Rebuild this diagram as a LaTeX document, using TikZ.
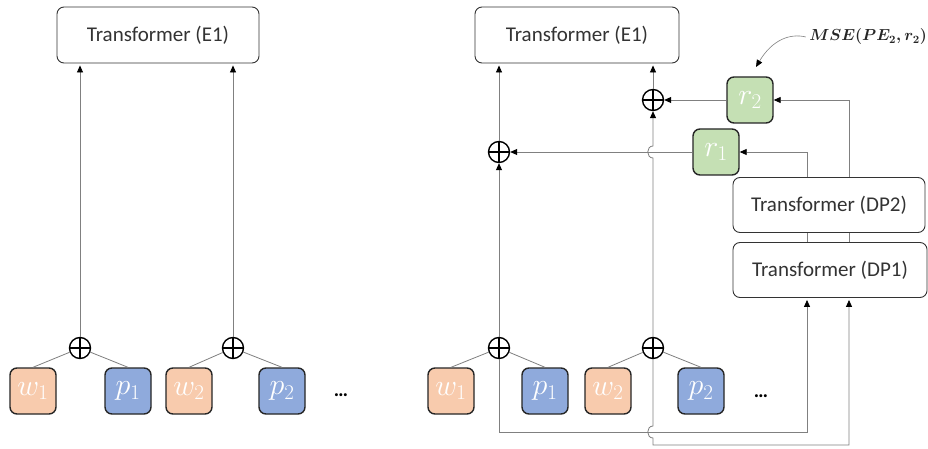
\RequirePackage{fix-cm}
\documentclass[tikz,border=0pt]{standalone}
\usepackage{fontspec}
\setmainfont{Carlito}
\usetikzlibrary{arrows.meta,calc}
\definecolor{wcol}{HTML}{F8CBAD}
\definecolor{pcol}{HTML}{8FAADC}
\definecolor{rcol}{HTML}{C5E0B4}
\definecolor{lncol}{HTML}{808080}
\definecolor{txtcol}{HTML}{333333}
\begin{document}
\begin{tikzpicture}[x=1pt,y=-1pt,
  rough/.style={rounded corners=7pt},
  tbox/.style={rough,draw=black!80,line width=0.9pt,fill=white,font=\fontsize{21}{25}\selectfont,text=txtcol,inner sep=0pt},
  tok/.style={rough,draw=black!85,line width=1.4pt,minimum width=46pt,minimum height=46pt,inner sep=0pt,text=white,font=\fontsize{30}{34}\selectfont},
  wtok/.style={tok,fill=wcol},
  ptok/.style={tok,fill=pcol},
  rtok/.style={tok,fill=rcol},
  oplus/.style={circle,draw=black,line width=1.4pt,minimum size=21pt,inner sep=0pt,
     path picture={\draw[line width=1.4pt] (path picture bounding box.north) -- (path picture bounding box.south) (path picture bounding box.west) -- (path picture bounding box.east);}},
  ln/.style={draw=lncol,line width=0.8pt},
  arr/.style={ln,-{Triangle[length=7pt,width=6pt,color=black]}},
  dots/.style={font=\fontsize{20}{24}\selectfont\bfseries,text=black},
  msestyle/.style={font=\fontsize{16}{19}\selectfont\boldmath,text=black!85},
]
\useasboundingbox[fill=white] (0,0) rectangle (928,449);

% ---------------- left panel ----------------
\node[tbox,minimum width=202pt,minimum height=56pt] (e1L) at (158,35) {Transformer (E1)};
\node[oplus] (s1L) at (80,348) {};
\node[oplus] (s2L) at (233,348) {};
\node[wtok] (w1L) at (33,391) {$w_1$};
\node[ptok] (p1L) at (128,391) {$p_1$};
\node[wtok] (w2L) at (189,391) {$w_2$};
\node[ptok] (p2L) at (282,391) {$p_2$};
\node[dots] (dotsL) at (341,395) {…};

\draw[ln] (s1L) -- (w1L.north);
\draw[ln] (s1L) -- (p1L.north);
\draw[ln] (s2L) -- (w2L.north);
\draw[ln] (s2L) -- (p2L.north);
\draw[arr,shorten >=2pt] (s1L) -- (s1L |- e1L.south);
\draw[arr,shorten >=2pt] (s2L) -- (s2L |- e1L.south);

% ---------------- right panel ----------------
\coordinate (a1) at (807,0);
\coordinate (a2) at (849,0);
\coordinate (bot1) at (0,432);
\coordinate (bot2) at (0,445);

\node[tbox,minimum width=204pt,minimum height=56pt] (e1R) at (577,35) {Transformer (E1)};
\node[oplus] (s1R) at (499,348) {};
\node[oplus] (s2R) at (653,348) {};
\node[oplus] (t1R) at (499,152) {};
\node[oplus] (t2R) at (653,100) {};
\node[rtok] (r2) at (750,100) {$r_2$};
\node[rtok] (r1) at (716,152) {$r_1$};
\node[tbox,minimum width=192pt,minimum height=55pt] (dp2) at (829,205) {Transformer (DP2)};
\node[tbox,minimum width=194pt,minimum height=55pt] (dp1) at (830,270) {Transformer (DP1)};
\node[wtok] (w1R) at (451,391) {$w_1$};
\node[ptok] (p1R) at (545,391) {$p_1$};
\node[wtok] (w2R) at (608,391) {$w_2$};
\node[ptok] (p2R) at (701,391) {$p_2$};
\node[dots] (dotsR) at (761,396) {…};
\node[msestyle] (mse) at (868,37) {$MSE(PE_2,r_2)$};
\coordinate (mseTip) at (756,67);

\draw[ln] (s1R) -- (w1R.north);
\draw[ln] (s1R) -- (p1R.north);
\draw[ln] (s2R) -- (w2R.north);
\draw[ln] (s2R) -- (p2R.north);

\draw[arr] (s1R) -- (t1R);
\draw[arr,shorten >=2pt] (t1R) -- (t1R |- e1R.south);
\draw[arr,shorten >=2pt] (t2R) -- (t2R |- e1R.south);
\draw[arr] (s2R) -- ($(s2R |- r1)+(0,6)$) .. controls +(-7,0) and +(-7,0) .. ($(s2R |- r1)+(0,-6)$) -- (t2R);
\draw[arr] (r2) -- (t2R);
\draw[arr] (r1) -- (t1R);
\draw[arr] (dp2.north -| a1) |- (r1);
\draw[arr] (dp2.north -| a2) |- (r2);
\draw[ln] (dp1.north -| a1) -- (dp2.south -| a1);
\draw[ln] (dp1.north -| a2) -- (dp2.south -| a2);
\draw[arr,shorten >=2pt] (s1R) -- (s1R |- bot1) -| (dp1.south -| a1);
\draw[arr,shorten >=2pt] (s2R) -- ($(s2R |- bot1)+(0,-6)$) .. controls +(-7,0) and +(-7,0) .. ($(s2R |- bot1)+(0,6)$) -- (s2R |- bot2) -| (dp1.south -| a2);
\draw[ln,line width=0.6pt,-{Triangle[length=7pt,width=6pt,color=black]}] (mse.west) .. controls (790,33) and (772,40) .. (mseTip);
\end{tikzpicture}
\end{document}
